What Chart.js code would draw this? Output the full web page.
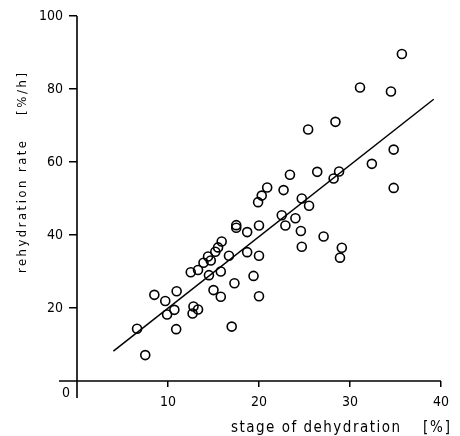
<!DOCTYPE html>
<html>
<head>
<meta charset="utf-8">
<script src="https://cdn.jsdelivr.net/npm/chart.js@4"></script>
<style>
html,body{margin:0;padding:0;background:#fff;}
#wrap{width:460px;height:436px;position:relative;}
</style>
</head>
<body>
<div id="wrap"><canvas id="c" width="460" height="436"></canvas></div>
<script>
// Data
const dehydration = [6.6,7.5,8.5,9.7,9.9,10.7,10.9,10.95,12.5,12.7,12.8,13.3,13.3,13.9,14.4,14.7,14.5,15.0,15.2,15.5,15.8,15.8,15.9,16.7,17.0,17.3,17.5,17.5,18.7,18.7,19.4,19.9,20.0,20.0,20.0,20.3,20.9,22.5,22.7,22.9,23.4,24.0,24.6,24.7,24.7,25.4,25.5,26.4,27.1,28.2,28.4,28.8,28.9,29.1,31.1,32.4,34.5,34.8,34.8,35.7];
const rehydration = [14.3,7.1,23.6,21.9,18.2,19.5,14.2,24.6,29.8,18.5,20.4,19.6,30.4,32.4,34.1,33.0,29.0,24.9,35.4,36.6,30.0,23.1,38.2,34.3,14.9,26.8,42.7,42.0,40.8,35.3,28.8,49.0,42.6,34.3,23.2,50.8,53.0,45.4,52.3,42.6,56.5,44.6,41.1,36.8,50.0,68.9,48.0,57.3,39.6,55.5,71.0,57.4,33.8,36.5,80.4,59.5,79.3,63.4,52.9,89.6];
const fitX = [4.0, 39.2];
const fitY = [8.2, 77.2];
const xTicks = [10,20,30,40];
const yTicks = [20,40,60,80,100];
const xTitleMain = "stage of dehydration";
const xTitleUnit = "[%]";
const yTitleMain = "rehydration rate";
const yTitleUnit = "[%/h]";
const originLabel = "0";

// pick a narrow font if it is installed
function hasFont(name){
  const c = document.createElement('canvas').getContext('2d');
  c.font = "40px monospace"; const a = c.measureText("0123456789abcdef").width;
  c.font = "40px '" + name + "', monospace"; const b = c.measureText("0123456789abcdef").width;
  return Math.abs(a-b) > 0.5;
}
const NARROW = hasFont('Liberation Sans Narrow');
const FONT = NARROW ? "'Liberation Sans Narrow',sans-serif" : "'DejaVu Sans Condensed','DejaVu Sans',sans-serif";
const TICK_SIZE = NARROW ? 16 : 14;
const XTITLE_SIZE = NARROW ? 17 : 15;
const YTITLE_SIZE = NARROW ? 15 : 13;

function fitText(ctx, text, x, y, target){
  ctx.letterSpacing = '0px';
  const w = ctx.measureText(text).width;
  const sp = (target - w) / Math.max(1, text.length - 1);
  ctx.letterSpacing = sp.toFixed(2) + 'px';
  ctx.textAlign = 'left';
  ctx.fillText(text, x, y);
  ctx.letterSpacing = '0px';
}

const points = dehydration.map((x,i)=>({x:x,y:rehydration[i]}));
const fit = fitX.map((x,i)=>({x:x,y:fitY[i]}));

const decor = {
  id:'decor',
  afterDraw(chart){
    const ctx = chart.ctx;
    const xs = chart.scales.x, ys = chart.scales.y;
    const x0 = xs.getPixelForValue(0), x40 = xs.getPixelForValue(40);
    const y0 = ys.getPixelForValue(0), y100 = ys.getPixelForValue(100);
    ctx.save();
    ctx.strokeStyle = '#000';
    ctx.lineWidth = 1.6;
    ctx.beginPath();
    ctx.moveTo(x0-18, y0); ctx.lineTo(x40, y0);
    ctx.moveTo(x0, y100); ctx.lineTo(x0, y0+17);
    ctx.stroke();
    ctx.fillStyle = '#000';
    ctx.font = TICK_SIZE + "px " + FONT;
    ctx.textAlign = 'center';
    ctx.textBaseline = 'middle';
    ctx.fillText(originLabel, x0-11, y0+12);
    ctx.font = XTITLE_SIZE + "px " + FONT;
    ctx.textBaseline = 'alphabetic';
    fitText(ctx, xTitleMain, 231, 432, 169);
    fitText(ctx, xTitleUnit, 423, 432, 27);
    ctx.font = YTITLE_SIZE + "px " + FONT;
    ctx.translate(26, 0);
    ctx.rotate(-Math.PI/2);
    // after rotation: x' = -y
    fitText(ctx, yTitleMain, -273, 0, 132);
    fitText(ctx, yTitleUnit, -115, 0, 42);
    ctx.restore();
  }
};

new Chart(document.getElementById('c'), {
  type:'scatter',
  data:{
    datasets:[
      {
        data:points,
        pointStyle:'circle',
        pointRadius:4.5,
        pointHoverRadius:4.5,
        pointBorderWidth:1.6,
        pointBorderColor:'#000',
        pointBackgroundColor:'rgba(255,255,255,0)',
        showLine:false
      },
      {
        type:'line',
        data:fit,
        borderColor:'#000',
        borderWidth:1.5,
        pointRadius:0,
        fill:false
      }
    ]
  },
  options:{
    responsive:false,
    animation:false,
    events:[],
    layout:{padding:{top:16,right:19,left:0,bottom:0}},
    plugins:{legend:{display:false},tooltip:{enabled:false}},
    scales:{
      x:{
        type:'linear', min:0, max:40,
        afterFit(s){ s.height = 55; },
        afterBuildTicks(s){ s.ticks = xTicks.map(v=>({value:v})); },
        border:{display:false},
        grid:{drawOnChartArea:false, drawTicks:true, tickLength:6, color:'#000', lineWidth:1.5},
        ticks:{color:'#000', font:{family:FONT,size:TICK_SIZE}, padding:7, maxRotation:0}
      },
      y:{
        type:'linear', min:0, max:100,
        afterFit(s){ s.width = 77; },
        afterBuildTicks(s){ s.ticks = yTicks.map(v=>({value:v})); },
        border:{display:false},
        grid:{drawOnChartArea:false, drawTicks:true, tickLength:8, color:'#000', lineWidth:1.5},
        ticks:{color:'#000', font:{family:FONT,size:TICK_SIZE}, padding:6}
      }
    }
  },
  plugins:[decor]
});
</script>
</body>
</html>
